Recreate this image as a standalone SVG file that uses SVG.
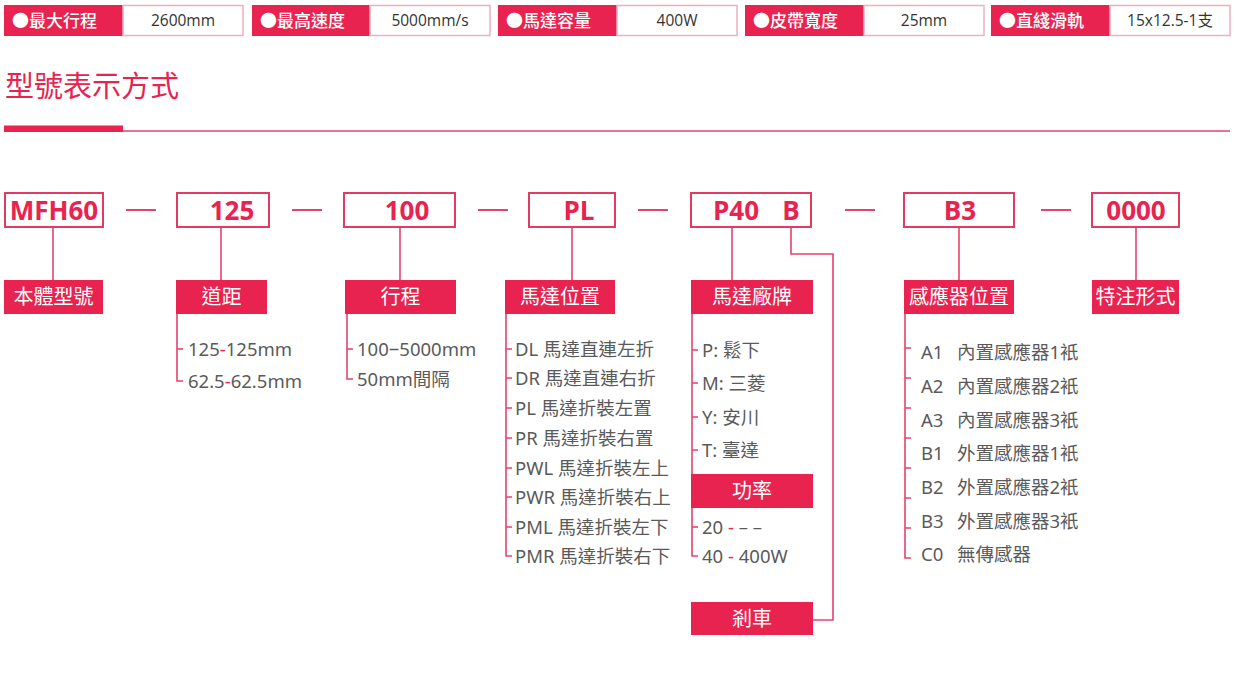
<svg xmlns="http://www.w3.org/2000/svg" width="1234" height="691" viewBox="0 0 1234 691">
<style>
.red{fill:#e8234f}
.wbox{fill:#fff;stroke:#ecb1bf;stroke-width:1.5}
.tlab{font-family:"Noto Sans CJK TC","Noto Sans",sans-serif;font-size:17px;font-weight:500;fill:#fff}
.tval{font-family:"Open Sans","Noto Sans CJK TC",sans-serif;font-size:15.5px;fill:#333;text-anchor:middle}
.mbox{fill:#fff;stroke:#e23a61;stroke-width:2}
.mtxt{font-family:"Open Sans","Liberation Sans",sans-serif;font-size:26px;font-weight:700;fill:#e8234f;text-anchor:middle}
.ltxt{font-family:"Noto Sans CJK TC","Noto Sans",sans-serif;font-size:20px;fill:#fff;text-anchor:middle}
.item{font-family:"Noto Sans","Noto Sans CJK TC",sans-serif;font-size:18.5px;fill:#5a5a5a}
.rd{fill:#e8234f}
.ln{stroke:#e6436b;stroke-width:1.6;fill:none}
.dash{stroke:#e6436b;stroke-width:2;fill:none}
</style>

<g id="spec-bar">
  <g id="spec-1"><rect class="red" x="4" y="5" width="119" height="31"/><rect class="wbox" x="123" y="5.5" width="120" height="30"/>
    <text class="tlab" x="12" y="27">●最大行程</text><text class="tval" x="183" y="26">2600mm</text></g>
  <g id="spec-2"><rect class="red" x="252" y="5" width="118" height="31"/><rect class="wbox" x="370" y="5.5" width="120" height="30"/>
    <text class="tlab" x="260" y="27">●最高速度</text><text class="tval" x="430" y="26">5000mm/s</text></g>
  <g id="spec-3"><rect class="red" x="498" y="5" width="119" height="31"/><rect class="wbox" x="617" y="5.5" width="120" height="30"/>
    <text class="tlab" x="506" y="27">●馬達容量</text><text class="tval" x="677" y="26">400W</text></g>
  <g id="spec-4"><rect class="red" x="745" y="5" width="119" height="31"/><rect class="wbox" x="864" y="5.5" width="120" height="30"/>
    <text class="tlab" x="753" y="27">●皮帶寬度</text><text class="tval" x="924" y="26">25mm</text></g>
  <g id="spec-5"><rect class="red" x="991" y="5" width="119" height="31"/><rect class="wbox" x="1110" y="5.5" width="120" height="30"/>
    <text class="tlab" x="999" y="27">●直綫滑軌</text><text class="tval" x="1170" y="26">15x12.5-1支</text></g>
</g>

<g id="header">
  <text x="5" y="97" font-family="Noto Sans CJK TC,Noto Sans,sans-serif" font-size="29" fill="#e8234f">型號表示方式</text>
  <line x1="123" y1="131" x2="1230" y2="131" stroke="#e7738c" stroke-width="2"/>
  <rect class="red" x="4" y="125.5" width="119" height="6.5"/>
</g>

<g id="connectors">
  <line class="dash" x1="126" y1="210" x2="156" y2="210"/>
  <line class="dash" x1="292" y1="210" x2="322" y2="210"/>
  <line class="dash" x1="478" y1="210" x2="508" y2="210"/>
  <line class="dash" x1="638" y1="210" x2="668" y2="210"/>
  <line class="dash" x1="845" y1="210" x2="875" y2="210"/>
  <line class="dash" x1="1041" y1="210" x2="1071" y2="210"/>
  <line class="ln" x1="53" y1="227" x2="53" y2="280"/>
  <line class="ln" x1="221" y1="227" x2="221" y2="280"/>
  <line class="ln" x1="400" y1="227" x2="400" y2="280"/>
  <line class="ln" x1="572" y1="227" x2="572" y2="280"/>
  <line class="ln" x1="732" y1="227" x2="732" y2="280"/>
  <line class="ln" x1="959" y1="227" x2="959" y2="280"/>
  <line class="ln" x1="1136" y1="227" x2="1136" y2="280"/>
  <polyline class="ln" points="791,227 791,254 833,254 833,620 813,620"/>
  <polyline class="ln" points="177,314 177,381 183,381"/>
  <line class="ln" x1="177" y1="349" x2="183" y2="349"/>
  <polyline class="ln" points="347,314 347,379 353,379"/>
  <line class="ln" x1="347" y1="349" x2="353" y2="349"/>
  <polyline class="ln" points="506,314 506,556 512,556"/>
  <path class="ln" d="M506,349h6M506,378h6M506,408h6M506,438h6M506,468h6M506,497h6M506,527h6"/>
  <line class="ln" x1="692" y1="314" x2="692" y2="474"/>
  <path class="ln" d="M692,350h6M692,383h6M692,417h6M692,450h6"/>
  <polyline class="ln" points="692,508 692,556 698,556"/>
  <line class="ln" x1="692" y1="527" x2="698" y2="527"/>
  <polyline class="ln" points="905,314 905,558 911,558"/>
  <path class="ln" d="M905,348h6M905,378h6M905,408h6M905,438h6M905,468h6M905,498h6M905,528h6"/>
</g>

<g id="node-mfh60"><rect class="mbox" x="5" y="193" width="98" height="34"/><text class="mtxt" x="54" y="219.5">MFH60</text></g>
<g id="node-125"><rect class="mbox" x="177" y="193" width="92" height="34"/><text class="mtxt" x="232" y="219.5">125</text></g>
<g id="node-100"><rect class="mbox" x="344" y="193" width="111" height="34"/><text class="mtxt" x="407" y="219.5">100</text></g>
<g id="node-pl"><rect class="mbox" x="529" y="193" width="86" height="34"/><text class="mtxt" x="579" y="219.5">PL</text></g>
<g id="node-p40b"><rect class="mbox" x="691" y="193" width="120" height="34"/><text class="mtxt" x="736" y="219.5">P40</text><text class="mtxt" x="791" y="219.5">B</text></g>
<g id="node-b3"><rect class="mbox" x="904" y="193" width="110" height="34"/><text class="mtxt" x="960" y="219.5">B3</text></g>
<g id="node-0000"><rect class="mbox" x="1092" y="193" width="87" height="34"/><text class="mtxt" x="1136" y="219.5">0000</text></g>

<g id="label-body"><rect class="red" x="4" y="280" width="99" height="34"/><text class="ltxt" x="53.5" y="304">本體型號</text></g>
<g id="label-pitch"><rect class="red" x="176" y="280" width="91" height="34"/><text class="ltxt" x="221.5" y="304">道距</text>
  <text class="item" x="188" y="356">125<tspan class="rd">-</tspan>125mm</text>
  <text class="item" x="188" y="388">62.5<tspan class="rd">-</tspan>62.5mm</text></g>
<g id="label-stroke"><rect class="red" x="345" y="280" width="111" height="34"/><text class="ltxt" x="400.5" y="304">行程</text>
  <text class="item" x="357" y="356">100−5000mm</text>
  <text class="item" x="357" y="386">50mm間隔</text></g>
<g id="label-motorpos"><rect class="red" x="505" y="280" width="110" height="34"/><text class="ltxt" x="560" y="304">馬達位置</text>
  <text class="item" x="515" y="356">DL 馬達直連左折</text>
  <text class="item" x="515" y="385">DR 馬達直連右折</text>
  <text class="item" x="515" y="415">PL 馬達折裝左置</text>
  <text class="item" x="515" y="445">PR 馬達折裝右置</text>
  <text class="item" x="515" y="475">PWL 馬達折裝左上</text>
  <text class="item" x="515" y="504">PWR 馬達折裝右上</text>
  <text class="item" x="515" y="534">PML 馬達折裝左下</text>
  <text class="item" x="515" y="563">PMR 馬達折裝右下</text></g>
<g id="label-brand"><rect class="red" x="691" y="280" width="122" height="34"/><text class="ltxt" x="752" y="304">馬達廠牌</text>
  <text class="item" x="702" y="357">P: 鬆下</text>
  <text class="item" x="702" y="390">M: 三菱</text>
  <text class="item" x="702" y="424">Y: 安川</text>
  <text class="item" x="702" y="457">T: 臺達</text></g>
<g id="label-power"><rect class="red" x="691" y="474" width="122" height="34"/><text class="ltxt" x="752" y="498">功率</text>
  <text class="item" x="702" y="534">20<tspan class="rd"> - </tspan>– –</text>
  <text class="item" x="702" y="563">40<tspan class="rd"> - </tspan>400W</text></g>
<g id="label-brake"><rect class="red" x="691" y="602" width="122" height="33"/><text class="ltxt" x="752" y="626">剎車</text></g>
<g id="label-sensor"><rect class="red" x="904" y="280" width="110" height="34"/><text class="ltxt" x="959" y="304">感應器位置</text>
  <text class="item" x="921" y="359">A1</text><text class="item" x="957" y="359">內置感應器1衹</text>
  <text class="item" x="921" y="393">A2</text><text class="item" x="957" y="393">內置感應器2衹</text>
  <text class="item" x="921" y="427">A3</text><text class="item" x="957" y="427">內置感應器3衹</text>
  <text class="item" x="921" y="460">B1</text><text class="item" x="957" y="460">外置感應器1衹</text>
  <text class="item" x="921" y="494">B2</text><text class="item" x="957" y="494">外置感應器2衹</text>
  <text class="item" x="921" y="528">B3</text><text class="item" x="957" y="528">外置感應器3衹</text>
  <text class="item" x="921" y="561">C0</text><text class="item" x="957" y="561">無傳感器</text></g>
<g id="label-special"><rect class="red" x="1092" y="280" width="87" height="34"/><text class="ltxt" x="1135.5" y="304">特注形式</text></g>
</svg>
